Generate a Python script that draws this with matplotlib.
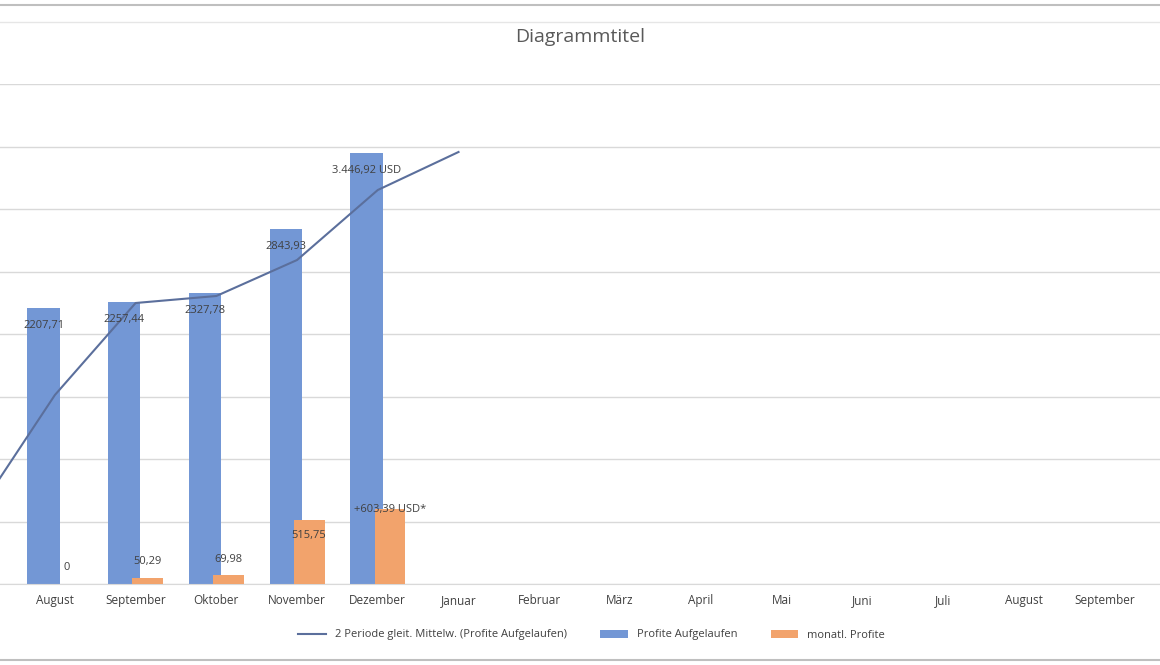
import matplotlib.pyplot as plt
import numpy as np

plt.rcParams['font.family'] = 'Open Sans'

months = ['August', 'September', 'Oktober', 'November', 'Dezember', 'Januar', 'Februar',
          'März', 'April', 'Mai', 'Juni', 'Juli', 'August', 'September']
profit_cum = [2207.71, 2257.44, 2327.78, 2843.93, 3446.92]
profit_month = [0, 50.29, 69.98, 515.75, 603.39]
cum_labels = ['2207,71', '2257,44', '2327,78', '2843,93', '3.446,92 USD']
month_labels = ['0', '50,29', '69,98', '515,75', '+603,39 USD*']
# moving average points (first one is the previous, cropped-off month)
ma_x = [-1, 0, 1, 2, 3, 4, 5]
ma_vals = [536, 1512, 2248, 2304, 2592, 3152, 3456]

fig = plt.figure(figsize=(11.6, 6.65), dpi=100)
ax = fig.add_axes([0, 81 / 665, 1, 500 / 665])

x = np.arange(len(profit_cum))
blue = '#7397d5'
orange = '#f2a36c'
ax.bar(x - 0.14, profit_cum, width=0.4, color=blue, zorder=2, label='Profite Aufgelaufen')
ax.bar(x + 0.15, profit_month, width=0.38, color=orange, zorder=3, label='monatl. Profite')
ax.plot(ma_x, ma_vals, color='#5b6f9c', lw=1.5, zorder=4,
        label='2 Periode gleit. Mittelw. (Profite Aufgelaufen)')

for i, (v, s) in enumerate(zip(profit_cum, cum_labels)):
    ax.text(i - 0.14, v - 140, s, ha='center', va='center', fontsize=8, color='#404040', zorder=5)
for i, (v, s) in enumerate(zip(profit_month, month_labels)):
    y = v + 130 if v < 300 else v - 130
    if i == 4:
        y = v - 10
    ax.text(i + 0.15, y, s, ha='center', va='center', fontsize=8, color='#404040', zorder=5)

ax.set_xlim(-0.68, 13.69)
ax.set_ylim(0, 4000)
ax.set_yticks(np.arange(0, 4001, 500))
ax.yaxis.grid(True, color='#d9d9d9', lw=1, zorder=0)
ax.tick_params(left=False, labelleft=False, bottom=False)
ax.set_xticks(range(len(months)))
ax.set_xticklabels(months, fontsize=8.5, color='#404040')
for s in ['top', 'left', 'right']:
    ax.spines[s].set_visible(False)
ax.spines['bottom'].set_color('#d9d9d9')

fig.text(0.5, 1 - 37 / 665, 'Diagrammtitel', ha='center', va='center', fontsize=14, color='#595959')
fig.add_artist(plt.Line2D([0, 1], [1 - 22 / 665] * 2, color='#e6e6e6', lw=1))
fig.add_artist(plt.Line2D([0, 1], [1 - 5 / 665] * 2, color='#bfbfbf', lw=1.5))
fig.add_artist(plt.Line2D([0, 1], [5 / 665] * 2, color='#bfbfbf', lw=1.5))

fig.legend(loc='center', bbox_to_anchor=(0.51, 1 - 635 / 665), ncol=3, frameon=False,
           fontsize=8, labelcolor='#404040', handlelength=2.5, columnspacing=3)

fig.savefig('out.png', dpi=100)
